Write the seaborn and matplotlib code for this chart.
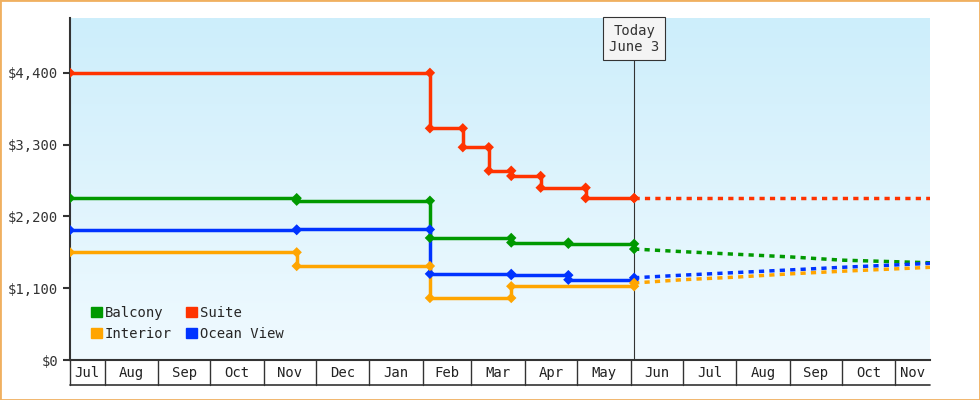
import numpy as np
import pandas as pd
import seaborn as sns
import matplotlib.pyplot as plt
from matplotlib.colors import LinearSegmentedColormap
from matplotlib.patches import Patch

sns.set_style('white')
plt.rcParams['font.family'] = ['DejaVu Sans Mono', 'DejaVu Sans']

# price history: change dates and prices
balcony_dates = ['2024-07-12', '2024-11-20', '2025-02-05', '2025-03-24', '2025-04-26', '2025-06-03']
balcony_vals = [2480, 2440, 1870, 1800, 1780, 1700]
ocean_dates = ['2024-07-12', '2024-11-20', '2025-02-05', '2025-03-24', '2025-04-26', '2025-06-03']
ocean_vals = [1990, 2000, 1320, 1300, 1230, 1260]
interior_dates = ['2024-07-12', '2024-11-20', '2025-02-05', '2025-03-24', '2025-06-03']
interior_vals = [1650, 1440, 950, 1130, 1180]
suite_dates = ['2025-02-05', '2025-02-24', '2025-03-11', '2025-03-24', '2025-04-10', '2025-05-06', '2025-06-03']
suite_vals = [3550, 3260, 2900, 2820, 2640, 2480, 2480]
suite_start = ('2024-07-12', 4400)

# forecast
fc_dates = ['2025-06-03', '2025-07-01', '2025-08-01', '2025-09-01', '2025-10-01', '2025-11-21']
fc_balcony = [1700, 1660, 1620, 1580, 1530, 1490]
fc_ocean = [1260, 1300, 1340, 1380, 1420, 1480]
fc_interior = [1180, 1230, 1270, 1320, 1360, 1420]
fc_suite = [2480, 2480, 2480, 2480, 2480, 2480]

today = pd.Timestamp('2025-06-03')
x_start, x_end = pd.Timestamp('2024-07-12'), pd.Timestamp('2025-11-21')
months = pd.date_range('2024-08-01', '2025-11-01', freq='MS')

colors = {'Balcony': '#009900', 'Suite': '#ff3300', 'Interior': '#ffa500', 'Ocean View': '#0033ff'}

fig = plt.figure(figsize=(9.8, 4), dpi=100)
ax = fig.add_axes([70/980, 40/400, 860/980, 342/400])

# gradient background
grad = np.linspace(0, 1, 256).reshape(-1, 1)
bg = LinearSegmentedColormap.from_list('bg', ['#f0faff', '#cdeefb'])
ax.imshow(grad, aspect='auto', cmap=bg, extent=[0, 1, 0, 1], transform=ax.transAxes, origin='lower', zorder=0)


def draw(name, dates, vals, start=None):
    d = pd.to_datetime(dates)
    c = colors[name]
    if start is not None:
        d = pd.DatetimeIndex([pd.Timestamp(start[0])]).append(d)
        vals = [start[1]] + list(vals)
    sns.lineplot(x=d, y=vals, drawstyle='steps-post', color=c, lw=2.5, ax=ax, zorder=3)
    mx, my = [d[0]], [vals[0]]
    for i in range(1, len(d)):
        mx += [d[i], d[i]]
        my += [vals[i - 1], vals[i]]
    ax.scatter(mx, my, marker='D', s=28, color=c, zorder=4, edgecolors='none')


draw('Suite', suite_dates, suite_vals, start=suite_start)
draw('Balcony', balcony_dates, balcony_vals)
draw('Ocean View', ocean_dates, ocean_vals)
draw('Interior', interior_dates, interior_vals)

for name, vals in [('Suite', fc_suite), ('Balcony', fc_balcony), ('Ocean View', fc_ocean), ('Interior', fc_interior)]:
    ax.plot(pd.to_datetime(fc_dates), vals, ls=(0, (1.5, 1.5)), lw=2.5, color=colors[name], zorder=3)

ax.axvline(today, color='#333333', lw=0.8, zorder=2)
ax.annotate('Today\nJune 3', xy=(today, 1), xycoords=('data', 'axes fraction'), xytext=(0, -4),
            textcoords='offset points', ha='center', va='top', fontsize=10, color='#333333',
            bbox=dict(boxstyle='square,pad=0.45', fc='#f4f4f4', ec='#333333', lw=0.8), zorder=5)

ax.set_xlim(x_start, x_end)
ax.set_ylim(0, 5240)
ax.set_yticks([0, 1100, 2200, 3300, 4400])
ax.set_yticklabels(['$0', '$1,100', '$2,200', '$3,300', '$4,400'], fontsize=10, color='#333333')
ax.tick_params(axis='y', direction='out', length=5, width=1.5, color='#333333', left=True)
ax.set_xticks([])
ax.set_xticks([], minor=True)
ax.tick_params(axis='x', which='both', labelbottom=False, bottom=False)
ax.set_xlabel('')
ax.set_ylabel('')
for s in ['top', 'right']:
    ax.spines[s].set_visible(False)
for s in ['left', 'bottom']:
    ax.spines[s].set_color('#333333')
    ax.spines[s].set_linewidth(1.5)

# month boxes below the axis
trans = ax.get_xaxis_transform()
bounds = [x_start] + list(months) + [x_end]
for b in bounds[:-1]:
    ax.plot([b, b], [0, -0.073], transform=trans, color='#333333', lw=1, clip_on=False)
ax.plot([x_start, x_end], [-0.073, -0.073], transform=trans, color='#333333', lw=1.2, clip_on=False)
for a, b in zip(bounds[:-1], bounds[1:]):
    mid = a + (b - a) / 2
    ax.text(mid, -0.037, a.strftime('%b'), transform=trans,
            ha='center', va='center', fontsize=10, color='#222222')

# legend
handles = [Patch(color=colors[n], label=n) for n in ['Balcony', 'Interior', 'Suite', 'Ocean View']]
ax.legend(handles=handles, ncol=2, loc='lower left', bbox_to_anchor=(0.01, 0.02), frameon=False,
          fontsize=10, handlelength=0.8, handleheight=0.8, handletextpad=0.2, columnspacing=1.0,
          labelspacing=0.5)

fig.patches.append(plt.Rectangle((0, 0), 1, 1, transform=fig.transFigure, fill=False,
                                 ec='#f0b060', lw=2))
fig.savefig('out.png', dpi=100)
